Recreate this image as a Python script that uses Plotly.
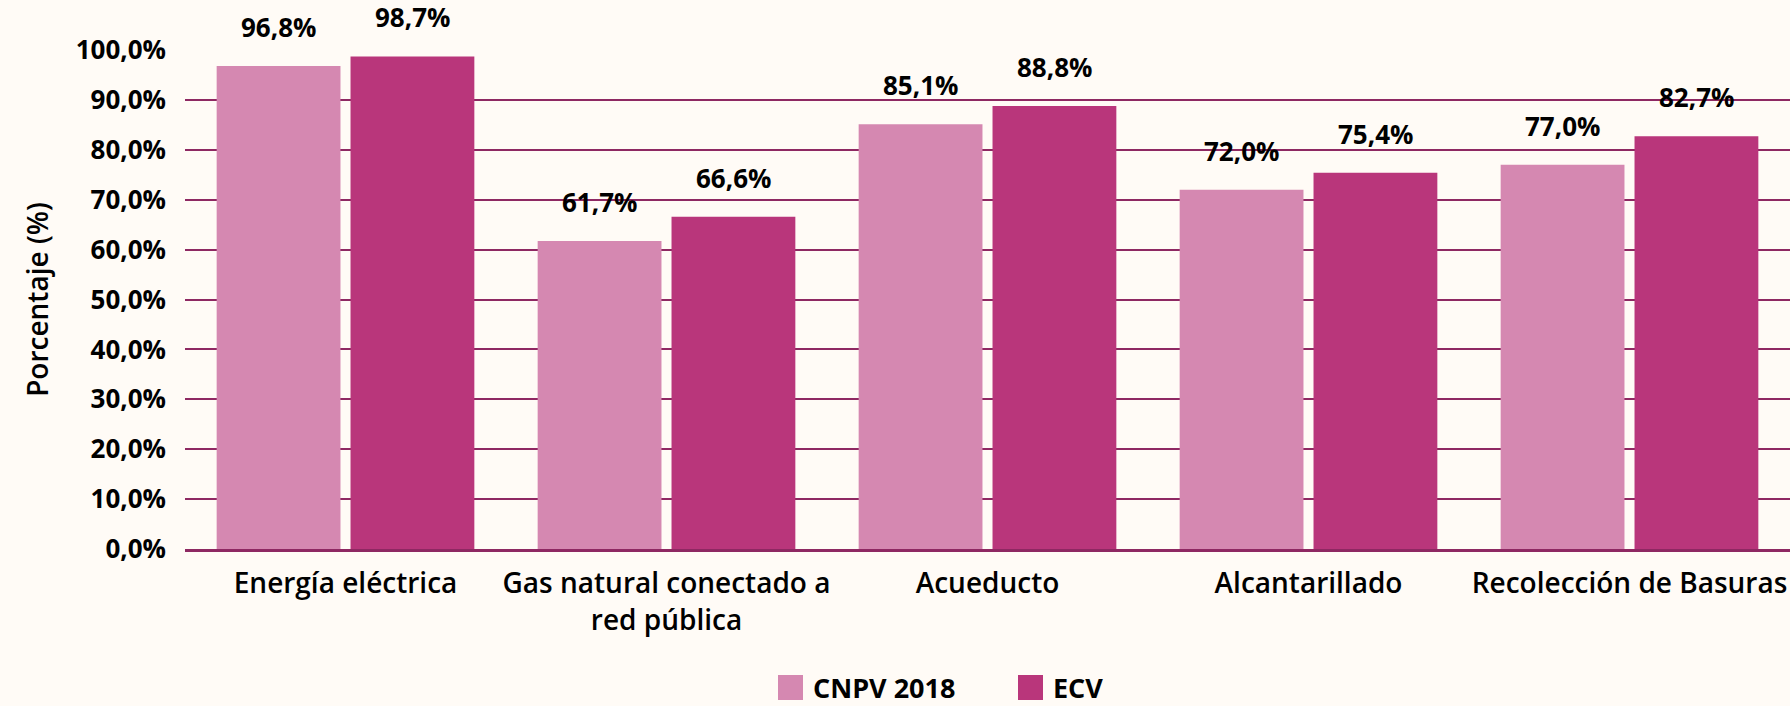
import plotly.graph_objects as go

categories = ["Energía eléctrica", "Gas natural conectado a<br>red pública", "Acueducto",
              "Alcantarillado", "Recolección de Basuras"]
series_names = ["CNPV 2018", "ECV"]
cnpv = [96.8, 61.7, 85.1, 72.0, 77.0]
ecv = [98.7, 66.6, 88.8, 75.4, 82.7]
y_ticks = [0, 10, 20, 30, 40, 50, 60, 70, 80, 90, 100]

PINK = "#D588B1"
MAGENTA = "#B9367B"
GRID = "#8E2862"
BG = "#FFFBF6"
FONT = "Open Sans"

W, H = 1790, 706
ML, MR, MT, MB = 185, 0, 50, 157
BARGAP = 0.166
BARGROUPGAP = 0.075


def fmt(v):
    return f"{v:.1f}".replace(".", ",") + "%"


def px_x(px):
    return (px - ML) / (W - ML - MR)


def px_y(py):
    return (H - MB - py) / (H - MT - MB)


series = [(series_names[0], cnpv, PINK), (series_names[1], ecv, MAGENTA)]

fig = go.Figure()
for name, vals, col in series:
    fig.add_bar(name=name, x=categories, y=vals, showlegend=False,
                marker=dict(color=col, line=dict(width=0)))

half = (1 - BARGAP) / 4
for k, (name, vals, col) in enumerate(series):
    sign = -1 if k == 0 else 1
    for i, v in enumerate(vals):
        fig.add_annotation(x=i + sign * half, y=v, text=fmt(v), showarrow=False,
                           yanchor="bottom", yshift=19,
                           font=dict(family=FONT, size=26, color="black", weight="bold"))

# small tick at the left end of the x axis
fig.add_shape(type="line", xref="paper", yref="y", x0=0, x1=0, y0=0, y1=-2.5,
              line=dict(color=GRID, width=2.5))

# legend drawn as squares + labels below the plot
legend_items = [(series_names[0], PINK, 778), (series_names[1], MAGENTA, 1018)]
for name, col, left in legend_items:
    fig.add_shape(type="rect", xref="paper", yref="paper",
                  x0=px_x(left), x1=px_x(left + 25), y0=px_y(700), y1=px_y(675),
                  fillcolor=col, line=dict(width=0))
    fig.add_annotation(xref="paper", yref="paper", x=px_x(left + 33), y=px_y(687),
                       xanchor="left", yanchor="middle", showarrow=False, text=name,
                       font=dict(family=FONT, size=27, color="black", weight="bold"))

fig.update_layout(
    width=W, height=H, autosize=False,
    paper_bgcolor=BG, plot_bgcolor=BG,
    margin=dict(l=ML, r=MR, t=MT, b=MB, autoexpand=False),
    barmode="group", bargap=BARGAP, bargroupgap=BARGROUPGAP,
    separators=",.",
    font=dict(family=FONT, color="black"),
    showlegend=False,
)
fig.update_xaxes(
    automargin=False,
    showgrid=False, showline=True, linecolor=GRID, linewidth=2.5,
    ticks="", ticklabelstandoff=8, range=[-0.5, 4.5],
    tickfont=dict(family=FONT, size=28, color="black", weight=600),
)
fig.update_yaxes(
    automargin=False,
    range=[0, 100], tickvals=y_ticks, ticktext=[fmt(t) for t in y_ticks],
    showgrid=True, gridcolor=GRID, gridwidth=2.2, zeroline=False, showline=False,
    ticks="", ticklabelstandoff=18,
    tickfont=dict(family=FONT, size=26, color="black", weight="bold"),
    title=dict(text="Porcentaje (%)", standoff=18,
               font=dict(family=FONT, size=28, color="black", weight=600)),
)

fig.write_html(
    "out.html",
    config={"displayModeBar": False},
    post_script="document.body.style.margin='0';document.body.style.background='" + BG + "';",
)
